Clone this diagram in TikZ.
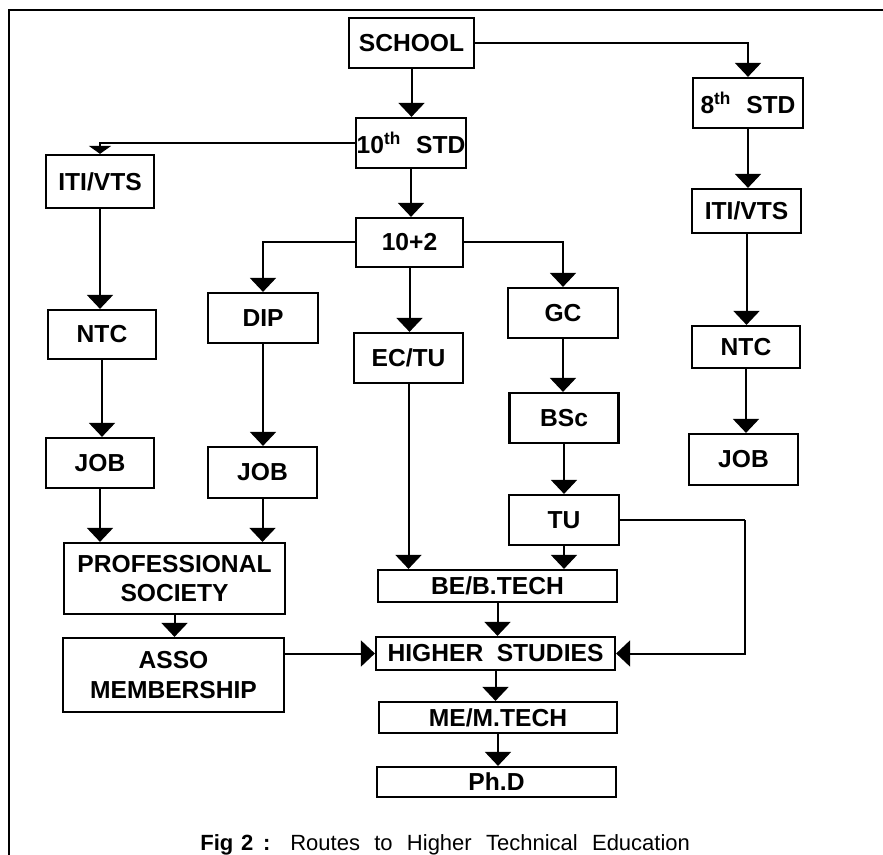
\documentclass[tikz,border=0pt]{standalone}
\usepackage{fontspec}
\setmainfont{Liberation Sans}
\usetikzlibrary{arrows.meta}
\tikzset{
  box/.style={draw, line width=1.1pt, inner sep=0pt, align=center, font=\fontsize{12.3}{14.8}\selectfont\bfseries},
  conn/.style={line width=1pt, -{Triangle[width=13pt,length=7pt]}},
  plain/.style={line width=1pt},
  smallarr/.style={line width=1pt, -{Triangle[width=11pt,length=4pt]}}
}
\begin{document}
\begin{tikzpicture}[x=0.5pt,y=-0.5pt]
\useasboundingbox (0,0) rectangle (883,855);
% frame
\draw[line width=0.7pt] (9,855) -- (9,10) -- (883,10);
% nodes
\node[box, minimum width=62.5pt, minimum height=25pt] (school) at (411.5,43) {SCHOOL};
\node[box, minimum width=55pt, minimum height=25pt] (tenth) at (411,143) {10\textsuperscript{th}\hspace{0.6em}STD};
\node[box, minimum width=55pt, minimum height=25pt] (eighth) at (748,103) {8\textsuperscript{th}\hspace{0.6em}STD};
\node[box, minimum width=54.5pt, minimum height=22pt] (itir) at (746.5,211) {ITI/VTS};
\node[box, minimum width=54pt, minimum height=26.5pt] (itil) at (100,181.5) {ITI/VTS};
\node[box, minimum width=53.5pt, minimum height=24.5pt] (plus2) at (409.5,242.5) {10+2};
\node[box, minimum width=55pt, minimum height=25pt] (dip) at (263,318) {DIP};
\node[box, minimum width=54.5pt, minimum height=25pt] (ectu) at (408.5,358) {EC/TU};
\node[box, minimum width=55pt, minimum height=25pt] (gc) at (563,313) {GC};
\node[box, minimum width=54.5pt, minimum height=25pt] (bsc) at (564,418) {BSc};
\node[box, minimum width=55pt, minimum height=25pt] (tu) at (564,520) {TU};
\node[box, minimum width=54pt, minimum height=21pt] (ntcr) at (746,347) {NTC};
\node[box, minimum width=54.5pt, minimum height=25.5pt] (jobr) at (743.5,459.5) {JOB};
\node[box, minimum width=54pt, minimum height=24.5pt] (ntcl) at (102,334.5) {NTC};
\node[box, minimum width=54pt, minimum height=25pt] (jobl) at (100,463) {JOB};
\node[box, minimum width=54.5pt, minimum height=25.5pt] (job2) at (262.5,472.5) {JOB};
\node[box, minimum width=110.5pt, minimum height=35.5pt] (prof) at (174.5,578.5) {PROFESSIONAL\\SOCIETY};
\node[box, minimum width=110.5pt, minimum height=37pt] (asso) at (173.5,675) {ASSO\\MEMBERSHIP};
\node[box, minimum width=119.5pt, minimum height=16pt] (be) at (497.5,586) {BE/B.TECH};
\node[box, minimum width=119.5pt, minimum height=16.5pt] (higher) at (495.5,653.5) {HIGHER\hspace{0.55em}STUDIES};
\node[box, minimum width=119pt, minimum height=15.5pt] (me) at (498,717.5) {ME/M.TECH};
\node[box, minimum width=119.5pt, minimum height=15pt] (phd) at (496.5,782) {Ph.D};
\node[anchor=base west, inner sep=0pt, font=\fontsize{11}{13}\selectfont] (cap) at (200,850)
  {\textbf{Fig\hspace{0.35em}2\hspace{0.45em}:}\hspace{0.9em}Routes\hspace{0.65em}to\hspace{0.65em}Higher\hspace{0.65em}Technical\hspace{0.65em}Education};
\coordinate (tur) at (745,520);
% connectors
\draw[conn] (school.south) -- (school.south |- tenth.north);
\draw[conn] (school.east) -| (eighth.north);
\draw[conn] (tenth.south) -- (tenth.south |- plus2.north);
\draw[smallarr] (tenth.west) -| (itil.north);
\draw[conn] (plus2.west) -| (dip.north);
\draw[conn] (plus2.east) -| (gc.north);
\draw[conn] (plus2.south) -- (plus2.south |- ectu.north);
\draw[conn] (gc.south) -- (gc.south |- bsc.north);
\draw[conn] (bsc.south) -- (bsc.south |- tu.north);
\draw[plain] (tu.east) -- (tur);
\draw[conn] (tur) |- (higher.east);
\draw[conn] (tu.south) -- (tu.south |- be.north);
\draw[conn] (ectu.south) -- (ectu.south |- be.north);
\draw[conn] (be.south) -- (be.south |- higher.north);
\draw[conn] (higher.south) -- (higher.south |- me.north);
\draw[conn] (me.south) -- (me.south |- phd.north);
\draw[conn] (asso.east |- higher.west) -- (higher.west);
\draw[conn] (eighth.south) -- (eighth.south |- itir.north);
\draw[conn] (itir.south) -- (itir.south |- ntcr.north);
\draw[conn] (ntcr.south) -- (ntcr.south |- jobr.north);
\draw[conn] (itil.south) -- (itil.south |- ntcl.north);
\draw[conn] (ntcl.south) -- (ntcl.south |- jobl.north);
\draw[conn] (jobl.south) -- (jobl.south |- prof.north);
\draw[conn] (dip.south) -- (dip.south |- job2.north);
\draw[conn] (job2.south) -- (job2.south |- prof.north);
\draw[conn] (prof.south) -- (prof.south |- asso.north);
\end{tikzpicture}
\end{document}
